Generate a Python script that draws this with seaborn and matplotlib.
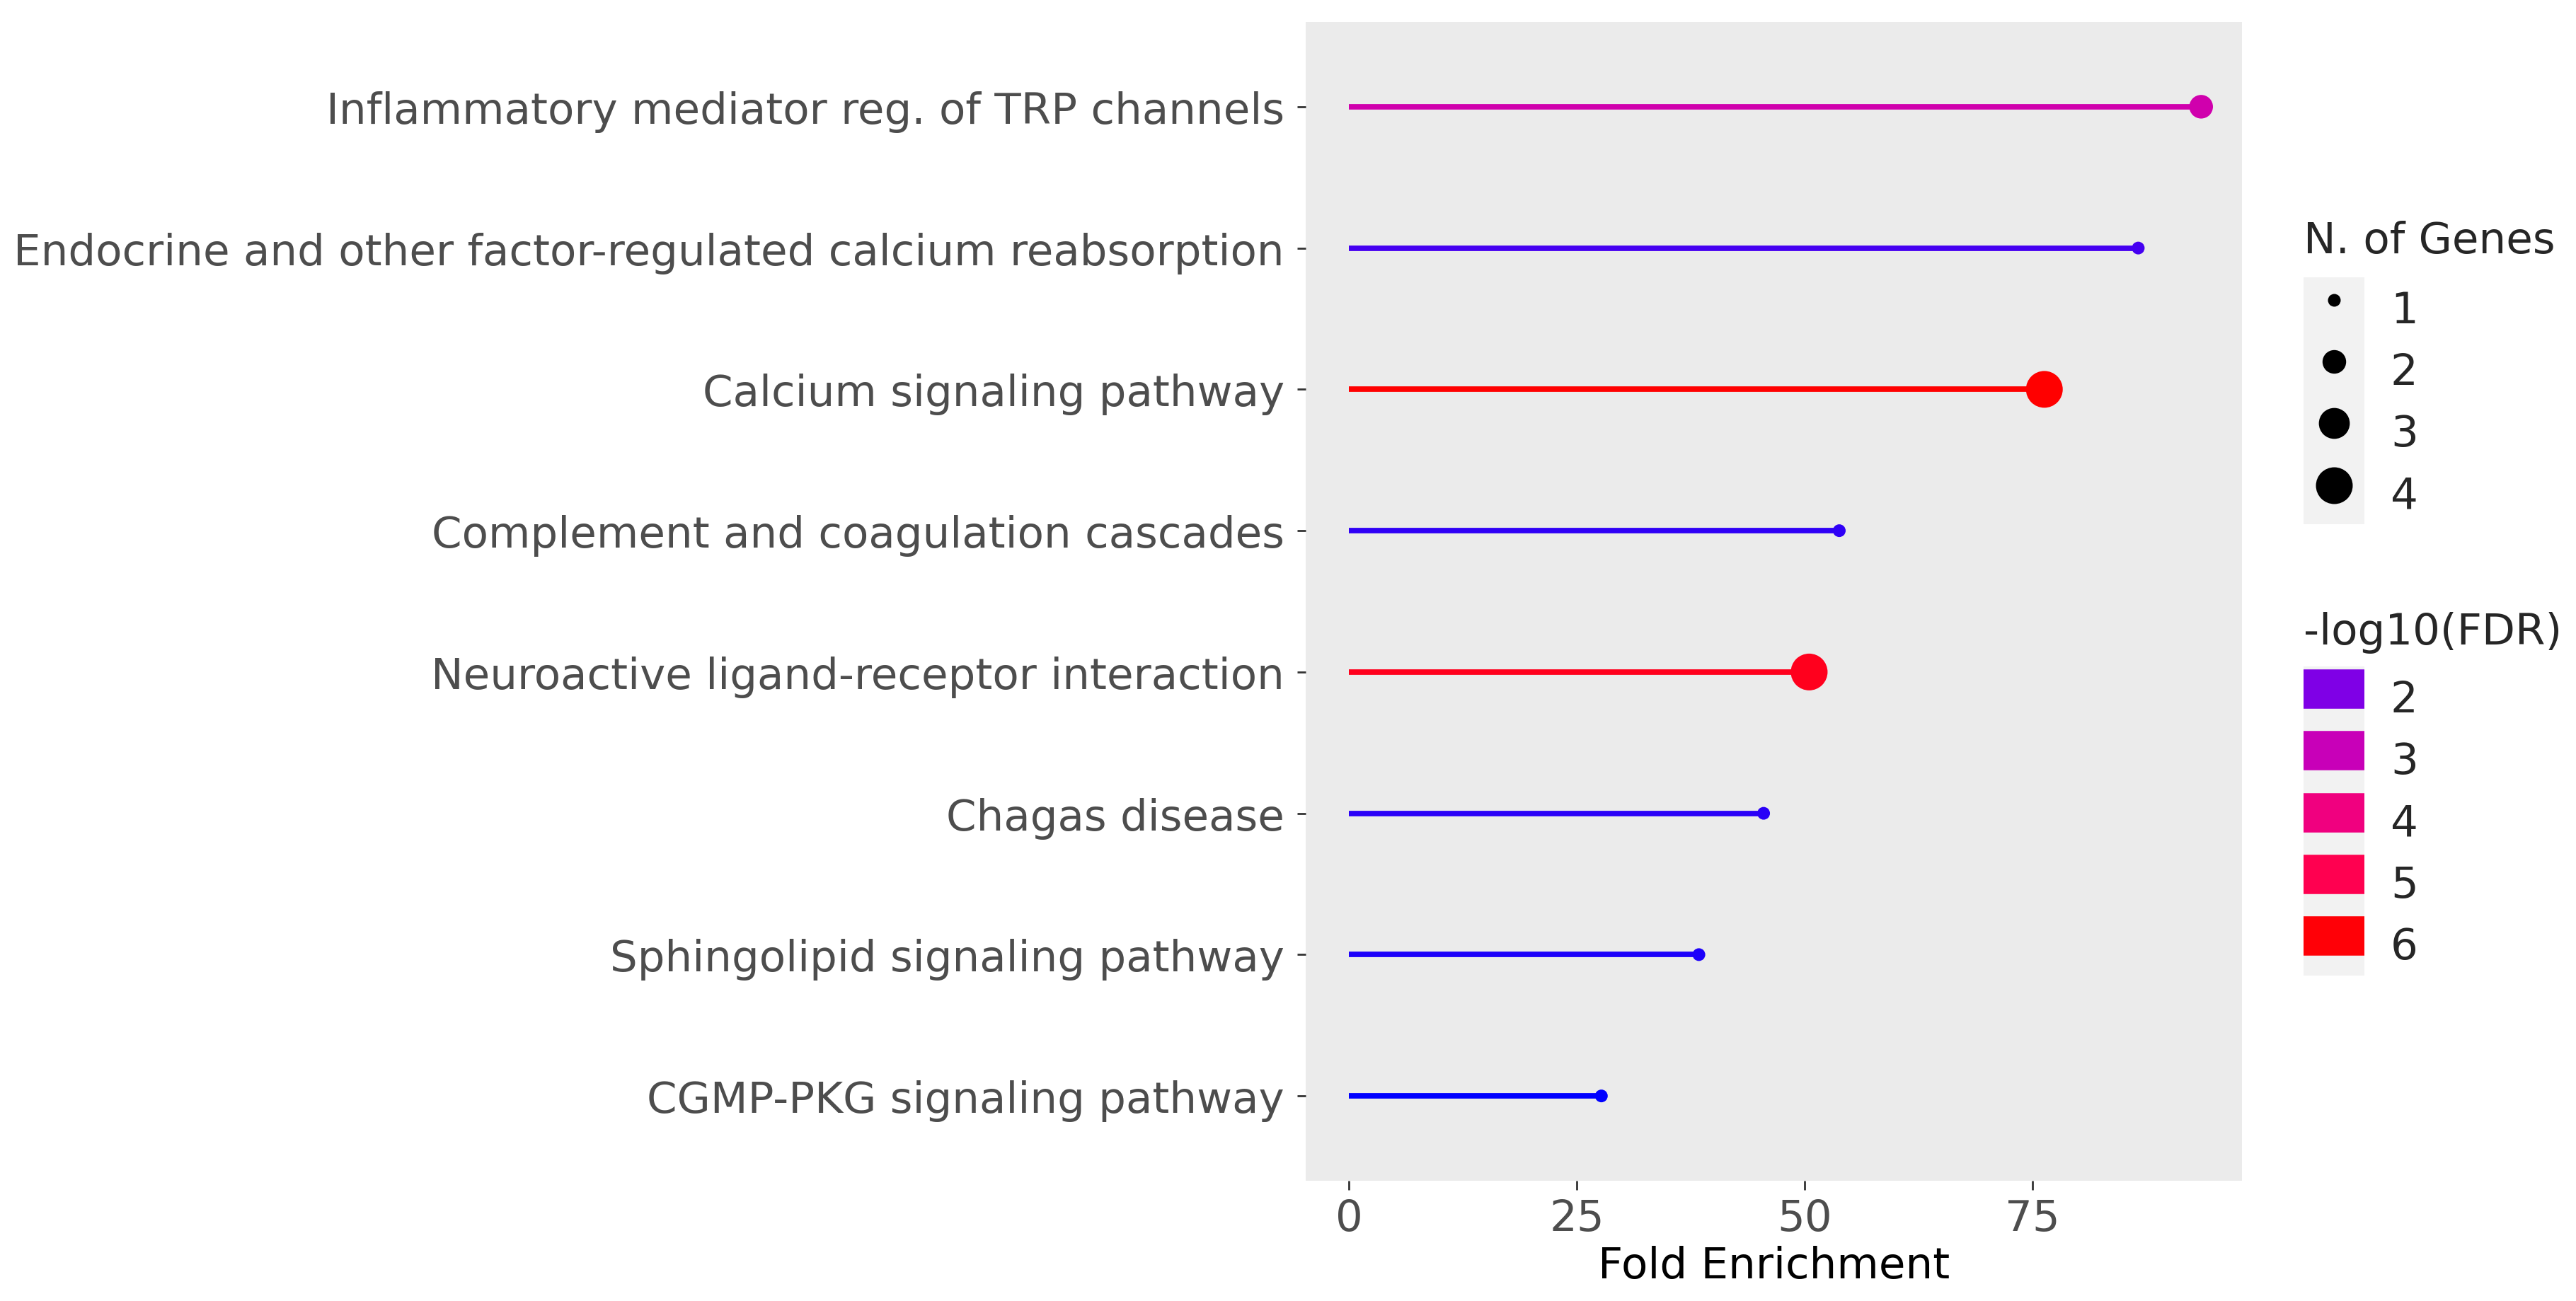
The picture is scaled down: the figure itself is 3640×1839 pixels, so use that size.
import numpy as np
import pandas as pd
import matplotlib.pyplot as plt
import seaborn as sns
from matplotlib.colors import LinearSegmentedColormap, Normalize
from matplotlib.lines import Line2D
from matplotlib.patches import Rectangle
from matplotlib.legend_handler import HandlerTuple

# data (top to bottom)
pathways = [
    "Inflammatory mediator reg. of TRP channels",
    "Endocrine and other factor-regulated calcium reabsorption",
    "Calcium signaling pathway",
    "Complement and coagulation cascades",
    "Neuroactive ligand-receptor interaction",
    "Chagas disease",
    "Sphingolipid signaling pathway",
    "CGMP-PKG signaling pathway",
]
fold_enrichment = [93.5, 86.6, 76.3, 53.8, 50.5, 45.5, 38.4, 27.7]
n_genes = [2, 1, 4, 1, 4, 1, 1, 1]
log_fdr = [3.2, 1.6, 6.1, 1.45, 5.7, 1.4, 1.3, 1.1]

size_breaks = [1, 2, 3, 4]
fdr_breaks = [2, 3, 4, 5, 6]

df = pd.DataFrame({"pathway": pathways, "fold": fold_enrichment,
                   "genes": n_genes, "fdr": log_fdr})

# blue -> red gradient like ggplot's scale_colour_gradient
fdr_min, fdr_max = min(log_fdr), max(log_fdr)
anchor_vals = [fdr_min, 2, 3, 4, 5, fdr_max]
anchor_cols = ["#0000ff", "#7f00e6", "#c800b8", "#f0007f", "#ff0050", "#ff0000"]
cmap = LinearSegmentedColormap.from_list(
    "fdr", [((v - fdr_min) / (fdr_max - fdr_min), c) for v, c in zip(anchor_vals, anchor_cols)])
norm = Normalize(fdr_min, fdr_max)

size_range = (42, 350)
def pt_area(n):
    return size_range[0] + (n - 1) / 3 * (size_range[1] - size_range[0])

sns.set_style("white")
plt.rcParams["font.family"] = ["DejaVu Sans"]

fig = plt.figure(figsize=(18.2, 9.2), dpi=200)
ax = fig.add_axes([0.5070, 0.0924, 0.3634, 0.8902])
ax.set_facecolor("#ebebeb")

# lollipop stems
ax.hlines(df.pathway, 0, df.fold, colors=cmap(norm(df.fdr)), linewidth=2.8, zorder=2)
# heads
sns.scatterplot(data=df, x="fold", y="pathway", hue="fdr", palette=cmap, hue_norm=norm,
                size="genes", sizes=size_range, size_norm=(1, 4), linewidth=0,
                legend=False, ax=ax, zorder=3)

ax.set_xlim(-4.7, 98)
ax.set_ylim(len(pathways) - 0.4, -0.6)
ax.set_xticks([0, 25, 50, 75])
ax.tick_params(axis="both", length=4.5, width=1, color="#333333", labelcolor="#4d4d4d",
               labelsize=22, pad=4, left=True, bottom=True)
ax.tick_params(axis="y", pad=6.5)
ax.set_xlabel("Fold Enrichment", fontsize=22, color="black", labelpad=3)
ax.set_ylabel("")
ax.grid(False)
for s in ax.spines.values():
    s.set_visible(False)

# legends
def key_bg():
    return Rectangle((0, 0), 1, 1, facecolor="#f2f2f2", edgecolor="none")

leg_kw = dict(handler_map={tuple: HandlerTuple(ndivide=1, pad=0)}, loc="upper left",
              frameon=False, fontsize=22, title_fontsize=22, handlelength=1.41,
              handleheight=1.82, labelspacing=0, handletextpad=0.6, borderpad=0,
              borderaxespad=0, alignment="left")

size_handles = [(key_bg(), Line2D([], [], ls="", marker="o", color="black", markeredgewidth=0,
                                  markersize=np.sqrt(pt_area(b)))) for b in size_breaks]
leg1 = fig.legend(size_handles, [str(b) for b in size_breaks], title="N. of Genes",
                  bbox_to_anchor=(3255 / 3640, 1 - 312 / 1840), **leg_kw)
leg1._legend_box.sep = 8

color_handles = [(key_bg(), Line2D([], [], color=cmap(norm(b)), linewidth=20,
                                   solid_capstyle="butt")) for b in fdr_breaks]
leg2 = fig.legend(color_handles, [str(b) for b in fdr_breaks], title="-log10(FDR)",
                  bbox_to_anchor=(3255 / 3640, 1 - 865 / 1840), **leg_kw)
leg2._legend_box.sep = 7

fig.savefig("out.png", dpi=200)
